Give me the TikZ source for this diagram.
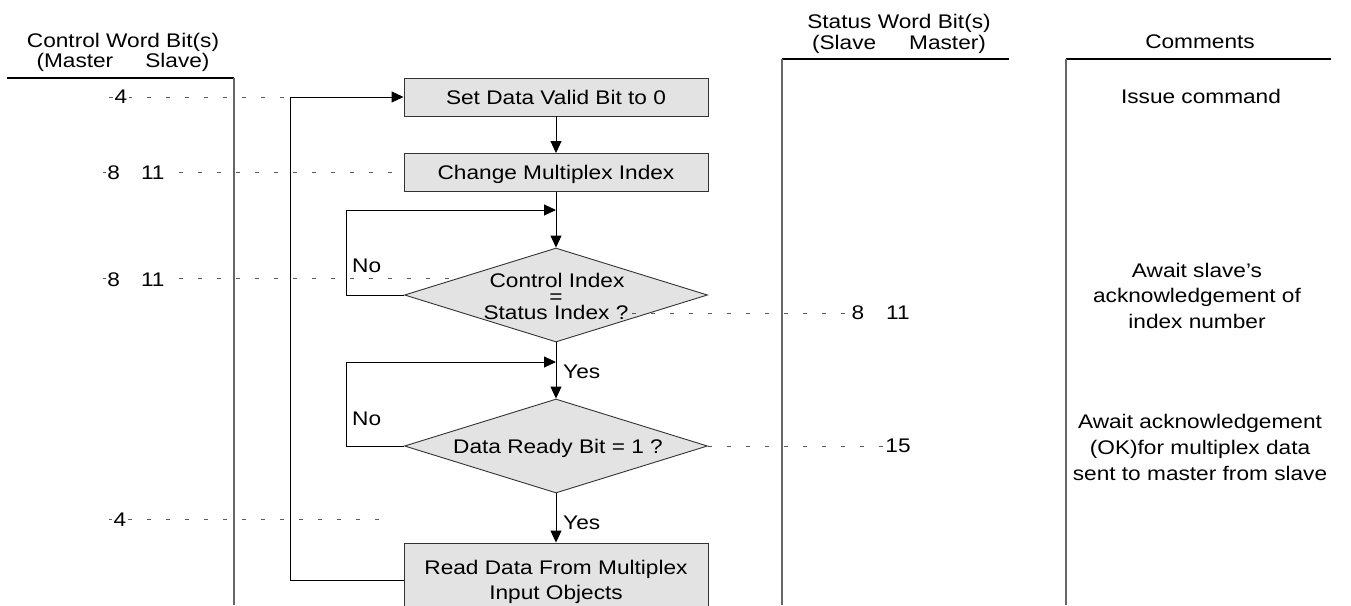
\documentclass[tikz,border=0pt]{standalone}
\usepackage{fontspec}
\setmainfont{Liberation Sans}[FakeStretch=1.15]
\usetikzlibrary{shapes.geometric,arrows.meta}
\tikzset{
  flow/.style={draw=black, line width=0.9pt},
  arr/.style={flow, -{Triangle[length=12pt,width=11pt]}},
  stepbox/.style={rectangle, draw=black!80, fill=black!11, line width=0.9pt,
    minimum width=304pt, minimum height=38pt, inner sep=0pt, text depth=0pt},
  decision/.style={diamond, draw=black!80, fill=black!11, line width=0.9pt,
    minimum width=303pt, minimum height=94pt, inner sep=0pt},
  guide/.style={draw=black!65, line width=0.7pt, dash pattern=on 4pt off 15pt},
  colline/.style={draw=black!60, line width=1.2pt},
  headline/.style={draw=black, line width=2pt},
  lbl/.style={anchor=base, inner sep=0pt},
  num/.style={anchor=base, fill=white, inner sep=1.5pt},
}
\begin{document}
\begin{tikzpicture}[x=1pt,y=-1pt,font=\fontsize{19.7}{25}\selectfont]
\useasboundingbox (0,0) rectangle (1351,605);
\clip (0,0) rectangle (1351,605);

% column headings
\node[lbl] (hc1) at (123,47) {Control Word Bit(s)};
\node[lbl] (hc2) at (123,67) {(Master\hspace*{32pt}Slave)};
\node[lbl] (hs1) at (899,28) {Status Word Bit(s)};
\node[lbl] (hs2) at (899,49) {(Slave\hspace*{33pt}Master)};
\node[lbl] (hm1) at (1200,48) {Comments};

% column rules
\draw[headline] (7,78) -- (234,78);
\draw[colline] (234,78) -- (234,605);
\draw[headline] (782,59) -- (1009,59);
\draw[colline] (782,59) -- (782,605);
\draw[headline] (1066,59) -- (1331,59);
\draw[colline] (1066,59) -- (1066,605);

% bit guide lines on the control side
\draw[guide] (109,97) -- (404,97);
\draw[guide] (103,172) -- (395,172);
\draw[guide] (103,278) -- (480,278);
\draw[guide] (109,519) -- (383,519);
\node[num] (b1) at (121,103) {4};
\node[num] (b2) at (136,179) {8\hspace*{21pt}11};
\node[num] (b3) at (136,286) {8\hspace*{21pt}11};
\node[num] (b4) at (120,526) {4};

% flowchart steps
\node[stepbox] (set) at (556,97) {Set Data Valid Bit to 0};
\node[stepbox] (chg) at (556,172.5) {Change Multiplex Index};
\node[decision] (d1) at (556,295) {};
\node[lbl] (d1a) at (557,287) {Control Index};
\node[lbl] (d1b) at (556,303) {=};
\node[lbl] (d1c) at (556,319) {Status Index ?};
\node[decision] (d2) at (556,446) {};
\node[lbl] (d2a) at (558,453) {Data Ready Bit = 1 ?};
\node[stepbox, minimum height=74pt, align=center] (read) at (556,580)
  {Read Data From Multiplex\\Input Objects};

% bit guide lines on the status side
\draw[guide] (632,313) -- (852,313);
\draw[guide] (d2.east) -- (885,446);
\node[num] (s1) at (880.6,319) {8\hspace*{22pt}11};
\node[num] (s2) at (898,452) {15};

% connectors
\coordinate (j1) at (556,210);
\coordinate (j2) at (556,362);
\draw[arr] (set) -- (chg);
\draw[arr] (chg) -- (d1);
\draw[arr] (d1) -- (d2);
\draw[arr] (d2) -- (read);
\draw[arr] (d1.west) -- ++(-57.5,0) |- (j1);
\draw[arr] (d2.west) -- ++(-57.5,0) |- (j2);
\draw[arr] (read.west) -- ++(-113,0) |- (set.west);

% branch labels
\node[lbl, anchor=base west] (no1) at (352,272) {No};
\node[lbl, anchor=base west] (no2) at (352,425) {No};
\node[lbl, anchor=base west] (yes1) at (563,378) {Yes};
\node[lbl, anchor=base west] (yes2) at (563,529) {Yes};

% comments
\node[lbl] (c1) at (1201,103) {Issue command};
\node[lbl] (c2) at (1197,277) {Await slave's};
\node[lbl] (c3) at (1197,302.5) {acknowledgement of};
\node[lbl] (c4) at (1197,328) {index number};
\node[lbl] (c5) at (1200,428) {Await acknowledgement};
\node[lbl] (c6) at (1200,454) {(OK)for multiplex data};
\node[lbl] (c7) at (1200,480) {sent to master from slave};
\end{tikzpicture}
\end{document}
